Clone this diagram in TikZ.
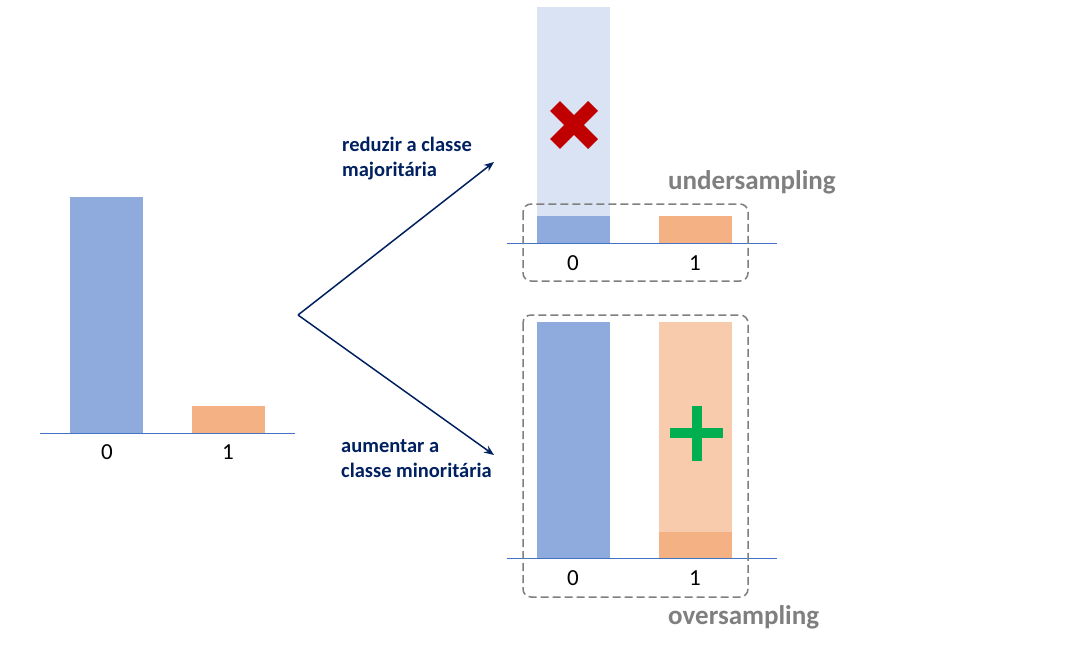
\documentclass[tikz,border=0pt]{standalone}
\usepackage{fontspec}
\setmainfont{Carlito}
\usetikzlibrary{arrows.meta}
\definecolor{barblue}{HTML}{8FAADC}
\definecolor{lightblue}{HTML}{DAE3F3}
\definecolor{barorange}{HTML}{F4B183}
\definecolor{lightorange}{HTML}{F8CBAD}
\definecolor{axisblue}{HTML}{4472C4}
\definecolor{navy}{HTML}{002060}
\definecolor{boxgray}{HTML}{7F7F7F}
\definecolor{xred}{HTML}{C00000}
\definecolor{plusgreen}{HTML}{00B050}
\begin{document}
\begin{tikzpicture}[x=1pt,y=-1pt,
  axisline/.style={draw=axisblue,line width=1pt},
  ticklabel/.style={font=\fontsize{23}{27}\selectfont,text=black,inner sep=0pt,anchor=center},
  arrowlabel/.style={font=\bfseries\fontsize{20.5}{25}\selectfont,text=navy,align=left,anchor=west,inner sep=0pt},
  methodlabel/.style={font=\bfseries\fontsize{27}{30}\selectfont,text=boxgray,anchor=west,inner sep=0pt},
  groupbox/.style={draw=boxgray,line width=1.5pt,dash pattern=on 8pt off 4pt,rounded corners=8pt},
  flow/.style={draw=navy,line width=1.5pt,-{Stealth[length=10pt,width=8pt]}}
]
\useasboundingbox (0,0) rectangle (1065,653);
\fill[white] (0,0) rectangle (1065,653);

% left chart
\fill[barblue] (70,197) rectangle (143,433);
\fill[barorange] (192,406) rectangle (265,433);
\draw[axisline] (40,433) -- (295,433);
\node[ticklabel] (l0) at (107,452) {0};
\node[ticklabel] (l1) at (228,452) {1};

% arrows
\coordinate (o) at (298,315);
\coordinate (up) at (494,162);
\coordinate (dn) at (494,455);
\draw[flow] (o) -- (up);
\draw[flow] (o) -- (dn);
\node[arrowlabel] (t1) at (342,159) {reduzir a classe\\majoritária};
\node[arrowlabel] (t2) at (341,459) {aumentar a\\classe minoritária};

% undersampling chart
\fill[lightblue] (537,7) rectangle (610,243);
\fill[barblue] (537,216) rectangle (610,243);
\fill[barorange] (659,216) rectangle (732,243);
\draw[axisline] (507,243) -- (777,243);
\node[ticklabel] (u0) at (573,263) {0};
\node[ticklabel] (u1) at (695,263) {1};
\draw[groupbox] (523,204) rectangle (748,281);
\draw[xred,line width=14pt] (555,106) -- (593,144);
\draw[xred,line width=14pt] (555,144) -- (593,106);
\node[methodlabel] (us) at (668,182) {undersampling};

% oversampling chart
\fill[barblue] (537,322) rectangle (610,558);
\fill[lightorange] (659,322) rectangle (732,558);
\fill[barorange] (659,532) rectangle (732,558);
\draw[axisline] (507,558) -- (777,558);
\node[ticklabel] (o0) at (573,578) {0};
\node[ticklabel] (o1) at (695,578) {1};
\draw[groupbox] (523,315) rectangle (748,597);
\fill[plusgreen] (670,428) rectangle (723,438);
\fill[plusgreen] (692,406) rectangle (702,461);
\node[methodlabel] (os) at (668,617) {oversampling};
\end{tikzpicture}
\end{document}
